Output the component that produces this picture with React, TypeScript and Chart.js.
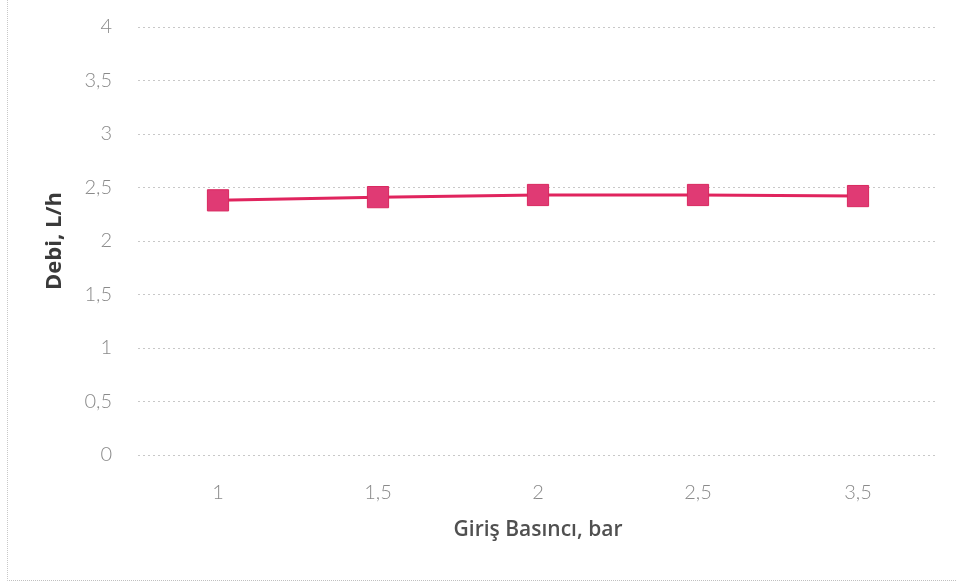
import React, { useEffect, useRef } from "react";
import { Chart, registerables } from "chart.js";

Chart.register(...registerables);

const categories = ["1", "1,5", "2", "2,5", "3,5"];
const debiValues = [2.38, 2.41, 2.43, 2.43, 2.42];
const yTicks = [0, 0.5, 1, 1.5, 2, 2.5, 3, 3.5, 4];
const xTitle = "Giriş Basıncı, bar";
const yTitle = "Debi, L/h";

export default function App() {
  const ref = useRef<HTMLCanvasElement | null>(null);
  useEffect(() => {
    if (!ref.current) return;
    const chart = new Chart(ref.current, {
      type: "line",
      data: {
        labels: categories,
        datasets: [
          {
            data: debiValues,
            borderColor: "#E0245E",
            backgroundColor: "#E03A74",
            borderWidth: 3,
            pointStyle: "rect",
            pointRadius: 15,
            pointHoverRadius: 15,
            pointBorderColor: "#D9285F",
            pointBackgroundColor: "#E03A74",
            pointBorderWidth: 1,
            tension: 0,
          },
        ],
      },
      options: {
        animation: false,
        responsive: false,
        maintainAspectRatio: false,
        layout: { padding: { left: 0, right: 19, top: 27, bottom: 0 } },
        plugins: { legend: { display: false }, tooltip: { enabled: false } },
        scales: {
          x: {
            type: "category",
            offset: true,
            afterFit: (axis: any) => {
              axis.height = 130;
              axis.paddingLeft = 0;
              axis.paddingRight = 0;
            },
            grid: { display: false, drawTicks: false },
            border: { display: false },
            ticks: {
              color: "#8a8a8a",
              font: { family: "Lato", size: 20, weight: "300" },
              padding: 26,
            },
            title: {
              display: true,
              text: xTitle,
              color: "#505050",
              font: { family: "Open Sans", size: 21, weight: "600" },
              padding: { top: 0, bottom: 42 },
            },
          },
          y: {
            min: 0,
            max: 4,
            afterBuildTicks: (axis: any) => {
              axis.ticks = yTicks.map((v) => ({ value: v }));
            },
            afterFit: (axis: any) => {
              axis.width = 138;
              axis.paddingTop = 0;
              axis.paddingBottom = 0;
            },
            grid: {
              color: "#c8c8c8",
              lineWidth: 1,
              drawTicks: false,
            },
            border: { display: false, dash: [2, 3] },
            ticks: {
              color: "#8a8a8a",
              font: { family: "Lato", size: 20, weight: "300" },
              padding: 26,
              callback: (v: any) => String(v).replace(".", ","),
            },
            title: {
              display: true,
              text: yTitle,
              color: "#3a3a3a",
              font: { family: "Open Sans", size: 22, weight: "bold" },
              padding: { top: 42, bottom: 0 },
            },
          },
        },
      },
    });
    return () => chart.destroy();
  }, []);
  return (
    <div
      style={{
        position: "fixed",
        left: 0,
        top: 0,
        width: 957,
        height: 585,
        background: "#fff",
      }}
    >
      <div
        style={{
          position: "absolute",
          left: 7,
          top: 0,
          width: 950,
          height: 580,
          borderLeft: "1px dotted #c8c8c8",
          borderBottom: "1px dotted #c0c0c0",
        }}
      />
      <canvas ref={ref} width={957} height={585} style={{ position: "absolute", left: 0, top: 0 }} />
    </div>
  );
}
